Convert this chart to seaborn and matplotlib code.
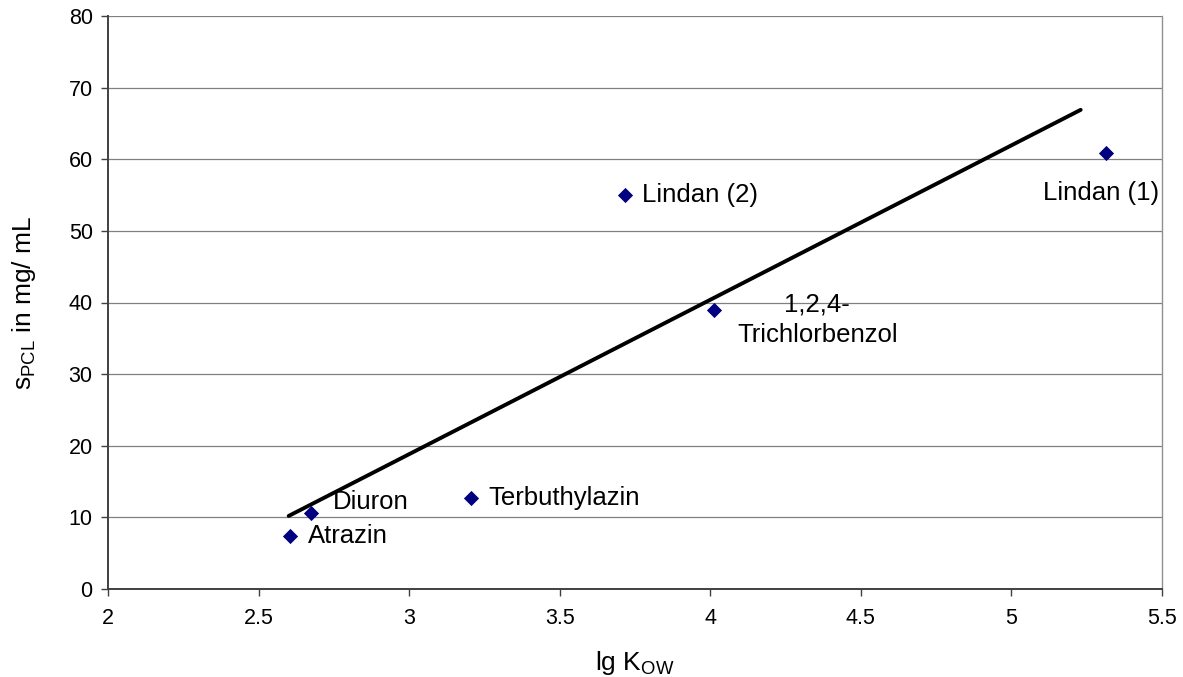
import matplotlib
matplotlib.use("Agg")
import matplotlib.pyplot as plt
import seaborn as sns
import pandas as pd

# data
compounds = ["Atrazin", "Diuron", "Terbuthylazin", "Lindan (2)", "1,2,4-\nTrichlorbenzol", "Lindan (1)"]
lg_kow = [2.604, 2.674, 3.206, 3.717, 4.013, 5.314]
s_pcl = [7.4, 10.6, 12.7, 55.0, 39.0, 60.9]
trend_x = [2.60, 5.23]
trend_y = [10.2, 66.9]
x_ticks = [2, 2.5, 3, 3.5, 4, 4.5, 5, 5.5]
y_ticks = [0, 10, 20, 30, 40, 50, 60, 70, 80]

sns.set_theme(style="white")
plt.rcParams["font.family"] = ["Liberation Sans", "DejaVu Sans"]
plt.rcParams["mathtext.fontset"] = "custom"
plt.rcParams["mathtext.rm"] = "Liberation Sans"
plt.rcParams["mathtext.it"] = "Liberation Sans"

df = pd.DataFrame({"x": lg_kow, "y": s_pcl, "name": compounds})
tdf = pd.DataFrame({"x": trend_x, "y": trend_y})

fig = plt.figure(figsize=(11.83, 6.77), dpi=100)
ax = fig.add_axes([108/1183, 1 - 589/677, (1162-108)/1183, (589-16)/677])

for yv in y_ticks[1:]:
    ax.axhline(yv, color="#808080", lw=0.9, zorder=0)

sns.lineplot(data=tdf, x="x", y="y", color="black", lw=2.8, ax=ax, zorder=2)
sns.scatterplot(data=df, x="x", y="y", marker="D", s=60, color="#000080",
                edgecolor="#000080", linewidth=0, ax=ax, zorder=3)

# label offsets in pixels
offsets = [(18, 0, "left"), (22, 11, "left"), (17, 0, "left"),
           (17, 0, "left"), (103, -10, "center"), (-5, -40, "center")]
for (xv, yv, name), (dx, dy, ha) in zip(zip(lg_kow, s_pcl, compounds), offsets):
    ax.annotate(name, (xv, yv), xytext=(dx, dy), textcoords="offset pixels",
                ha=ha, va="center", fontsize=18.5, color="black",
                multialignment="center", linespacing=1.3)

ax.set_xlim(2, 5.5)
ax.set_ylim(0, 80)
ax.set_xticks(x_ticks)
ax.set_xticklabels([f"{v:g}" for v in x_ticks])
ax.set_yticks(y_ticks)
ax.tick_params(axis="both", direction="out", length=5, width=1, color="#404040",
               labelsize=15.5, pad=6, bottom=True, left=True, labelcolor="black")
ax.tick_params(axis="x", pad=9)

for s in ["left", "bottom"]:
    ax.spines[s].set_color("#404040")
    ax.spines[s].set_linewidth(1.4)
ax.spines["right"].set_color("#909090")
ax.spines["right"].set_linewidth(1.0)
ax.spines["top"].set_visible(False)

ax.set_xlabel(r"lg K$_{\mathrm{OW}}$", fontsize=19, labelpad=14, color="black")
ax.set_ylabel(r"s$_{\mathrm{PCL}}$ in mg/ mL", fontsize=19, labelpad=22, color="black")

fig.savefig("out.png", dpi=100)
